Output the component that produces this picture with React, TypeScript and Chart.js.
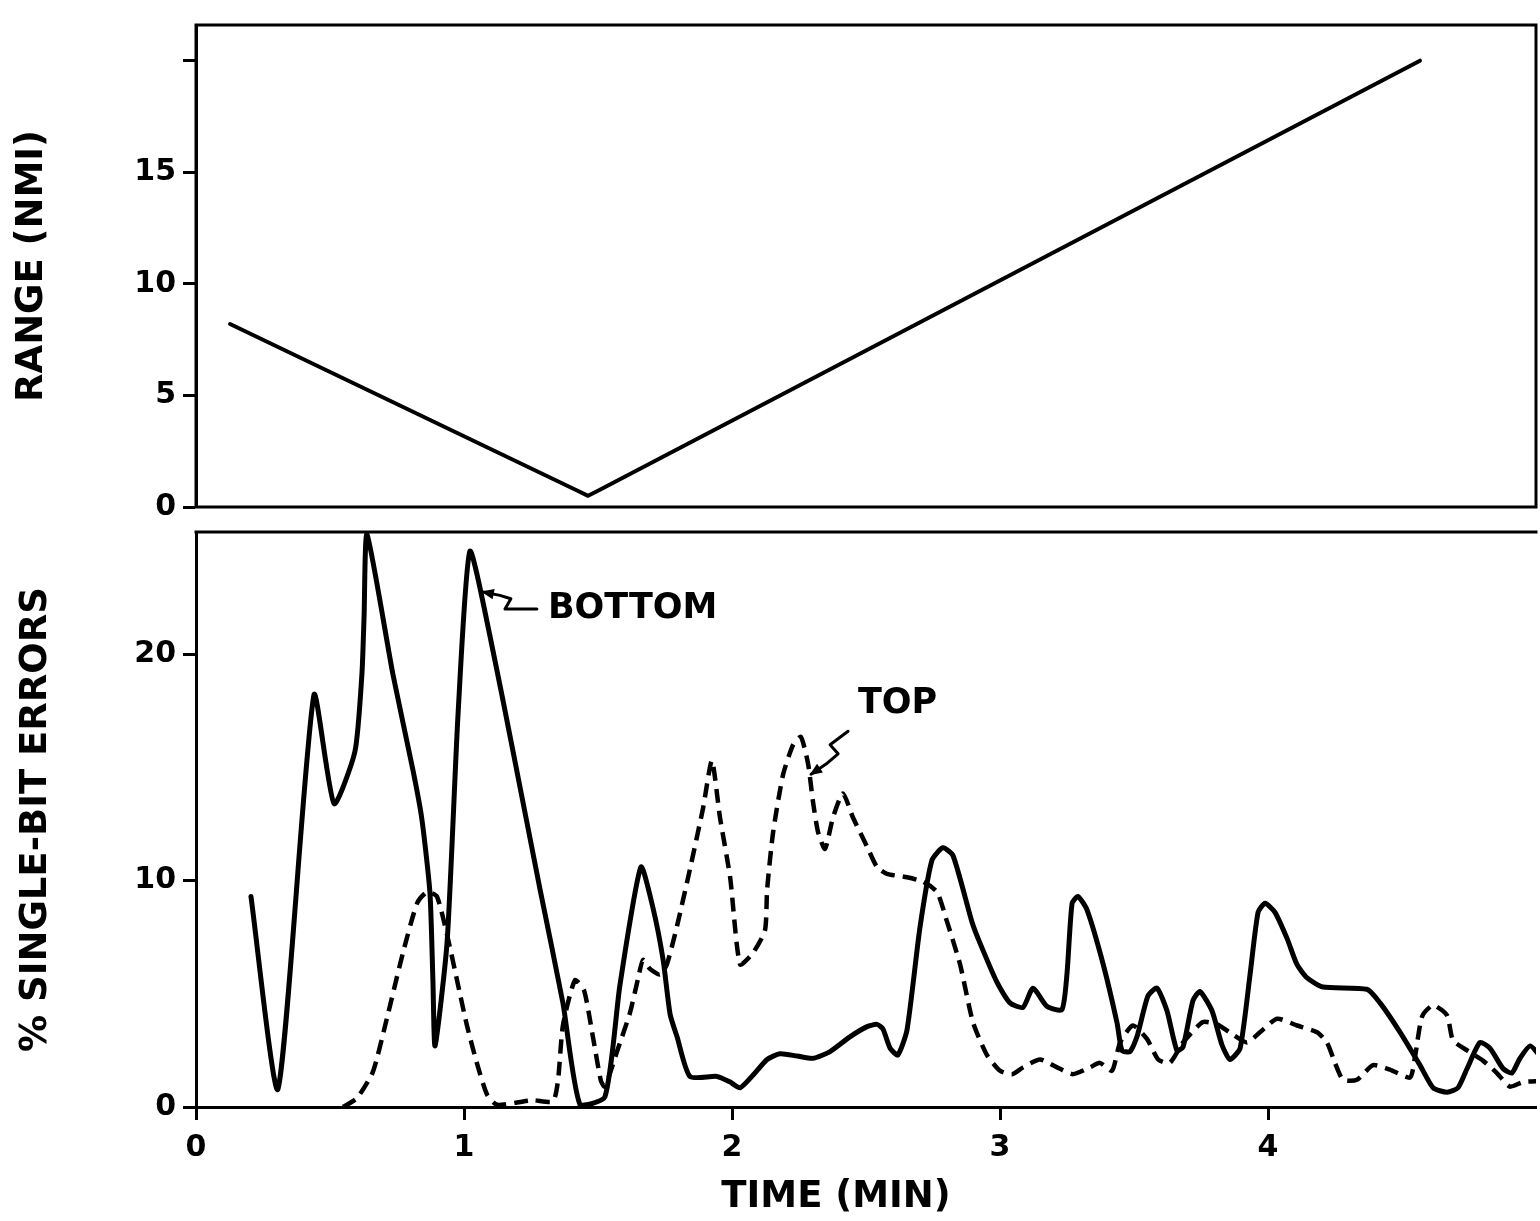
import React, { useEffect, useRef } from 'react';
import { Chart, registerables } from 'chart.js';

Chart.register(...registerables);

const FONT = '"DejaVu Sans", "Liberation Sans", sans-serif';

// ---- Data (time in minutes) ----
const rangeSeries: [number, number][] = [
  [0.127, 8.2], [1.42, 0.75], [1.463, 0.5], [1.5, 0.73], [4.567, 20.0],
];

const bottomSeries: [number, number][] = [
  [0.205, 9.3], [0.306, 0.8], [0.44, 18.2], [0.515, 13.4], [0.593, 15.7], [0.619, 19.1],
  [0.627, 21.6], [0.638, 25.3], [0.735, 19.1], [0.81, 14.85], [0.843, 12.7], [0.873, 9.45],
  [0.884, 5.6], [0.892, 2.7], [0.937, 7.3], [0.978, 17.4], [1.022, 24.55], [1.097, 20.8],
  [1.183, 15.7], [1.284, 9.6], [1.369, 4.6], [1.433, 0.1], [1.526, 0.45], [1.582, 5.4],
  [1.66, 10.6], [1.705, 8.8], [1.743, 6.5], [1.769, 4.1], [1.795, 3.1], [1.843, 1.35],
  [1.944, 1.35], [1.993, 1.1], [2.03, 0.85], [2.078, 1.4], [2.131, 2.1], [2.179, 2.35],
  [2.243, 2.25], [2.302, 2.15], [2.366, 2.45], [2.44, 3.1], [2.504, 3.55], [2.541, 3.65],
  [2.563, 3.45], [2.59, 2.6], [2.619, 2.3], [2.653, 3.4], [2.701, 7.9], [2.746, 10.9],
  [2.787, 11.45], [2.825, 11.1], [2.896, 8.15], [2.925, 7.25], [2.989, 5.5], [3.037, 4.6],
  [3.086, 4.4], [3.123, 5.25], [3.175, 4.45], [3.231, 4.3], [3.25, 5.9], [3.269, 9.0],
  [3.291, 9.3], [3.325, 8.7], [3.384, 6.35], [3.437, 3.7], [3.455, 2.5], [3.485, 2.45],
  [3.511, 3.1], [3.552, 4.9], [3.586, 5.25], [3.623, 4.25], [3.66, 2.5], [3.683, 2.65],
  [3.72, 4.7], [3.746, 5.1], [3.791, 4.25], [3.828, 2.75], [3.858, 2.1], [3.896, 2.6],
  [3.933, 5.85], [3.963, 8.6], [3.989, 9.0], [4.026, 8.6], [4.071, 7.45], [4.108, 6.3],
  [4.146, 5.7], [4.205, 5.3], [4.369, 5.2], [4.418, 4.6], [4.493, 3.3], [4.567, 1.85],
  [4.616, 0.85], [4.668, 0.65], [4.709, 0.85], [4.743, 1.7], [4.791, 2.85], [4.828, 2.6],
  [4.877, 1.7], [4.91, 1.5], [4.94, 2.15], [4.978, 2.7], [5.015, 2.25],
];

const topSeries: [number, number][] = [
  [0.549, 0], [0.601, 0.4], [0.66, 1.55], [0.713, 3.95], [0.772, 6.8], [0.825, 9.0],
  [0.862, 9.5], [0.899, 9.3], [0.937, 7.6], [0.974, 5.6], [1.011, 3.6], [1.049, 1.9],
  [1.086, 0.55], [1.123, 0.1], [1.198, 0.2], [1.257, 0.3], [1.332, 0.25], [1.351, 1.2],
  [1.369, 3.6], [1.414, 5.6], [1.448, 5.15], [1.481, 3.1], [1.511, 1.15], [1.526, 0.9],
  [1.571, 2.45], [1.619, 4.15], [1.649, 5.65], [1.668, 6.5], [1.694, 6.1], [1.731, 5.85],
  [1.757, 6.3], [1.795, 8.0], [1.843, 10.5], [1.892, 13.2], [1.925, 15.3], [1.955, 12.8],
  [1.993, 10.15], [2.03, 6.3], [2.078, 6.8], [2.123, 7.8], [2.131, 9.6], [2.153, 12.1],
  [2.19, 14.65], [2.228, 16.0], [2.257, 16.35], [2.284, 15.15], [2.302, 13.5], [2.321, 12.15],
  [2.347, 11.4], [2.377, 12.8], [2.414, 13.85], [2.451, 12.8], [2.504, 11.5], [2.541, 10.6],
  [2.578, 10.3], [2.653, 10.15], [2.713, 9.95], [2.765, 9.5], [2.802, 8.2], [2.851, 6.3],
  [2.899, 3.75], [2.951, 2.3], [3.0, 1.6], [3.045, 1.45], [3.086, 1.75], [3.149, 2.1],
  [3.213, 1.75], [3.272, 1.45], [3.336, 1.75], [3.373, 1.95], [3.418, 1.6], [3.448, 2.85],
  [3.496, 3.6], [3.549, 3.0], [3.59, 2.1], [3.634, 1.95], [3.683, 2.85], [3.757, 3.75],
  [3.81, 3.65], [3.869, 3.2], [3.922, 2.85], [3.97, 3.3], [4.034, 3.9], [4.108, 3.6],
  [4.183, 3.3], [4.22, 2.85], [4.25, 1.95], [4.28, 1.2], [4.332, 1.2], [4.392, 1.85],
  [4.455, 1.65], [4.53, 1.3], [4.549, 2.25], [4.575, 4.0], [4.616, 4.5], [4.668, 4.05],
  [4.69, 2.95], [4.743, 2.5], [4.802, 2.05], [4.854, 1.5], [4.903, 0.9], [4.951, 1.1],
  [5.015, 1.15],
];

const timeTicks = [0, 1, 2, 3, 4];
const rangeTickValues = [0, 5, 10, 15, 20];
const rangeTickLabels = ['0', '5', '10', '15', ''];
const errorTicks = [0, 10, 20];

const annotationTexts = [
  { text: 'BOTTOM', t: 1.313, v: 22.0 },
  { text: 'TOP', t: 2.47, v: 17.8 },
];
const bottomArrow: [number, number][] = [
  [1.272, 22.0], [1.153, 22.0], [1.175, 22.45], [1.134, 22.6], [1.071, 22.75],
];
const topArrow: [number, number][] = [
  [2.433, 16.6], [2.366, 16.0], [2.396, 15.6], [2.351, 15.15], [2.295, 14.7],
];
const xTitle = { text: 'TIME (MIN)', t: 2.388 };

// ---- plugins ----
const framePlugin = {
  id: 'frame',
  afterDraw(chart: any, _args: any, opts: any) {
    const { ctx, chartArea } = chart;
    const { left, top, right, bottom } = chartArea;
    const sides: string[] = opts.sides || [];
    ctx.save();
    ctx.strokeStyle = '#000';
    ctx.lineWidth = 3;
    ctx.lineCap = 'square';
    ctx.beginPath();
    if (sides.includes('top')) { ctx.moveTo(left, top); ctx.lineTo(right, top); }
    if (sides.includes('bottom')) { ctx.moveTo(left, bottom); ctx.lineTo(right, bottom); }
    if (sides.includes('left')) { ctx.moveTo(left, top); ctx.lineTo(left, bottom); }
    if (sides.includes('right')) { ctx.moveTo(right, top); ctx.lineTo(right, bottom); }
    ctx.stroke();
    ctx.restore();
  },
};

const annotationPlugin = {
  id: 'notes',
  afterDraw(chart: any) {
    const { ctx } = chart;
    const xs = chart.scales.x;
    const ys = chart.scales.y;
    ctx.save();
    ctx.fillStyle = '#000';
    ctx.strokeStyle = '#000';
    ctx.font = `bold 35px ${FONT}`;
    ctx.textBaseline = 'middle';
    ctx.textAlign = 'left';
    annotationTexts.forEach((a) => {
      ctx.fillText(a.text, xs.getPixelForValue(a.t), ys.getPixelForValue(a.v));
    });
    const drawArrow = (pts: [number, number][]) => {
      const p = pts.map(([t, v]) => [xs.getPixelForValue(t), ys.getPixelForValue(v)]);
      ctx.lineWidth = 3;
      ctx.lineJoin = 'round';
      ctx.lineCap = 'round';
      ctx.beginPath();
      ctx.moveTo(p[0][0], p[0][1]);
      for (let i = 1; i < p.length; i++) ctx.lineTo(p[i][0], p[i][1]);
      ctx.stroke();
      const [x1, y1] = p[p.length - 2];
      const [x2, y2] = p[p.length - 1];
      const ang = Math.atan2(y2 - y1, x2 - x1);
      const L = 12;
      ctx.beginPath();
      ctx.moveTo(x2 + 2 * Math.cos(ang), y2 + 2 * Math.sin(ang));
      ctx.lineTo(x2 - L * Math.cos(ang - 0.45), y2 - L * Math.sin(ang - 0.45));
      ctx.lineTo(x2 - L * Math.cos(ang + 0.45), y2 - L * Math.sin(ang + 0.45));
      ctx.closePath();
      ctx.fill();
    };
    drawArrow(bottomArrow);
    drawArrow(topArrow);
    ctx.font = `bold 37px ${FONT}`;
    ctx.textAlign = 'center';
    ctx.fillText(xTitle.text, xs.getPixelForValue(xTitle.t), xs.bottom - 24);
    ctx.restore();
  },
};

const tickFont = { family: FONT, size: 30, weight: 'bold' as const };
const titleFont = { family: FONT, size: 37, weight: 'bold' as const };

export default function App() {
  const topRef = useRef<HTMLCanvasElement>(null);
  const botRef = useRef<HTMLCanvasElement>(null);

  useEffect(() => {
    const topChart = new Chart(topRef.current as HTMLCanvasElement, {
      type: 'line',
      data: {
        datasets: [
          {
            label: 'Range',
            data: rangeSeries.map(([x, y]) => ({ x, y })),
            borderColor: '#000',
            borderWidth: 4,
            pointRadius: 0,
            tension: 0,
            borderJoinStyle: 'round',
            borderCapStyle: 'round',
          },
        ],
      },
      options: {
        responsive: false,
        animation: false,
        layout: { padding: { left: 0, right: 4, top: 20, bottom: 714 } },
        plugins: {
          legend: { display: false },
          tooltip: { enabled: false },
          frame: { sides: ['left', 'top', 'right', 'bottom'] },
        } as any,
        scales: {
          x: { type: 'linear', min: 0, max: 5, display: false },
          y: {
            type: 'linear',
            min: 0,
            max: 21.6,
            afterFit: (s: any) => { s.width = 196; },
            afterBuildTicks: (s: any) => { s.ticks = rangeTickValues.map((value) => ({ value })); },
            ticks: {
              callback: (_v: any, i: number) => rangeTickLabels[i],
              font: tickFont,
              color: '#000',
              padding: 7,
            },
            grid: { drawOnChartArea: false, drawTicks: true, tickLength: 13, tickWidth: 3, tickColor: '#000' },
            border: { display: true, color: '#000', width: 3 },
            title: { display: true, text: 'RANGE (NMI)', font: titleFont, color: '#000', padding: { top: 10, bottom: 0 } },
          },
        },
      },
      plugins: [framePlugin],
    });

    const botChart = new Chart(botRef.current as HTMLCanvasElement, {
      type: 'line',
      data: {
        datasets: [
          {
            label: 'BOTTOM',
            data: bottomSeries.map(([x, y]) => ({ x, y })),
            borderColor: '#000',
            borderWidth: 5,
            pointRadius: 0,
            tension: 0.2,
            borderJoinStyle: 'round',
            borderCapStyle: 'round',
          },
          {
            label: 'TOP',
            data: topSeries.map(([x, y]) => ({ x, y })),
            borderColor: '#000',
            borderWidth: 4.5,
            borderDash: [14, 8],
            pointRadius: 0,
            tension: 0.2,
            borderJoinStyle: 'round',
            borderCapStyle: 'butt',
          },
        ],
      },
      options: {
        responsive: false,
        animation: false,
        layout: { padding: { left: 0, right: 4, top: 532, bottom: 0 } },
        plugins: {
          legend: { display: false },
          tooltip: { enabled: false },
          frame: { sides: ['top'] },
        } as any,
        scales: {
          x: {
            type: 'linear',
            min: 0,
            max: 5,
            afterFit: (s: any) => { s.height = 114; },
            afterBuildTicks: (s: any) => { s.ticks = timeTicks.map((value) => ({ value })); },
            ticks: { font: tickFont, color: '#000', padding: 10, maxRotation: 0 },
            grid: { drawOnChartArea: false, drawTicks: true, tickLength: 13, tickWidth: 3, tickColor: '#000' },
            border: { display: true, color: '#000', width: 3 },
          },
          y: {
            type: 'linear',
            min: 0,
            max: 25.4,
            afterFit: (s: any) => { s.width = 196; },
            afterBuildTicks: (s: any) => { s.ticks = errorTicks.map((value) => ({ value })); },
            ticks: { font: tickFont, color: '#000', padding: 7 },
            grid: { drawOnChartArea: false, drawTicks: true, tickLength: 13, tickWidth: 3, tickColor: '#000' },
            border: { display: true, color: '#000', width: 3 },
            title: { display: true, text: '% SINGLE-BIT ERRORS', font: titleFont, color: '#000', padding: { top: 14, bottom: 0 } },
          },
        },
      },
      plugins: [framePlugin, annotationPlugin],
    });

    return () => {
      topChart.destroy();
      botChart.destroy();
    };
  }, []);

  const canvasStyle: React.CSSProperties = { position: 'absolute', left: 0, top: 0, display: 'block' };
  return (
    <div style={{ position: 'absolute', left: 0, top: 0, width: 1540, height: 1221, background: '#fff', overflow: 'hidden' }}>
      <canvas ref={topRef} width={1540} height={1221} style={canvasStyle} />
      <canvas ref={botRef} width={1540} height={1221} style={canvasStyle} />
    </div>
  );
}
